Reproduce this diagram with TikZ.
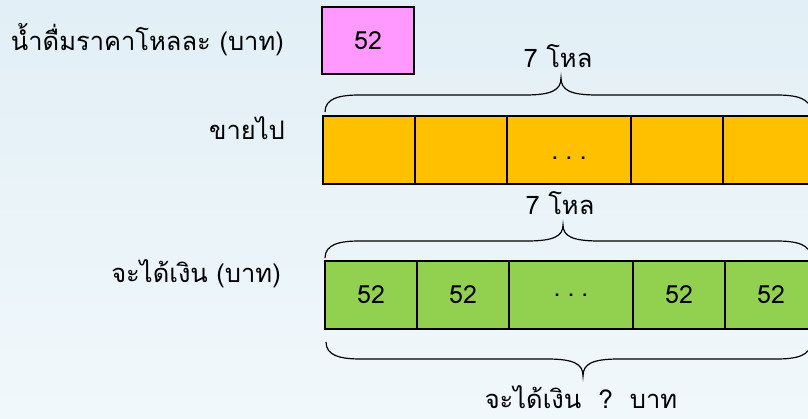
\documentclass[tikz,border=0pt]{standalone}
\usepackage{fontspec}
\newfontfamily\thaifont[Script=Thai]{Loma}
\usetikzlibrary{calc}
\definecolor{bgtop}{RGB}{226,239,246}
\definecolor{bgbot}{RGB}{241,248,251}
\definecolor{pinkc}{RGB}{255,153,255}
\definecolor{orangec}{RGB}{255,192,0}
\definecolor{greenc}{RGB}{146,208,80}
\tikzset{
  txt/.style={font=\thaifont\fontsize{25.5}{28}\selectfont, inner sep=0pt},
  cellbox/.style={draw=black, line width=1.3pt, minimum height=68pt, inner sep=0pt, font=\thaifont\fontsize{25}{28}\selectfont},
  ocell/.style={cellbox, fill=orangec},
  gcell/.style={cellbox, fill=greenc},
  bracel/.style={draw=black, line width=1.2pt},
}
\begin{document}
\begin{tikzpicture}[x=1pt,y=-1pt]
\shade[top color=bgtop, bottom color=bgbot] (0,0) rectangle (808,419);
\useasboundingbox (0,0) rectangle (808,419);

% price
\node[txt, anchor=east] (lprice) at (284,40) {น้ำดื่มราคาโหลละ (บาท)};
\node[cellbox, fill=pinkc, minimum width=92pt, minimum height=67pt] (price) at (368,40.5) {52};

% top brace
\node[txt] (t1) at (558,56) {7 โหล};
\draw[bracel] (325,112) .. controls (325,98) and (340,95) .. (360,95) -- (525,95)
  .. controls (552,95) and (561,90) .. (561,78)
  .. controls (561,90) and (570,95) .. (597,95) -- (776,95)
  .. controls (796,95) and (811,98) .. (811,112);

% sold row
\node[txt, anchor=east] (lsold) at (285,128) {ขายไป};
\node[ocell, minimum width=92pt] (o1) at (369,150) {};
\node[ocell, minimum width=92pt] (o2) at (461,150) {};
\node[ocell, minimum width=124pt] (o3) at (569,150) {};
\node[ocell, minimum width=92pt] (o4) at (677,150) {};
\node[ocell, minimum width=92pt] (o5) at (769,150) {};
\node[txt] (odots) at (569,158) {.\hspace{7pt}.\hspace{7pt}.};

% middle brace
\node[txt] (t2) at (560,203) {7 โหล};
\draw[bracel] (325,258) .. controls (325,244) and (340,241) .. (360,241) -- (527,241)
  .. controls (554,241) and (563,236) .. (563,225)
  .. controls (563,236) and (572,241) .. (599,241) -- (776,241)
  .. controls (796,241) and (811,244) .. (811,258);

% money row
\node[txt, anchor=east] (lmoney) at (281,274) {จะได้เงิน (บาท)};
\node[gcell, minimum width=92pt] (g1) at (371,295) {52};
\node[gcell, minimum width=92pt] (g2) at (463,295) {52};
\node[gcell, minimum width=124pt] (g3) at (571,295) {.\hspace{7pt}.\hspace{7pt}.};
\node[gcell, minimum width=92pt] (g4) at (679,295) {52};
\node[gcell, minimum width=92pt] (g5) at (771,295) {52};

% bottom brace
\draw[bracel] (326,342) .. controls (326,356) and (341,359) .. (361,359) -- (547,359)
  .. controls (574,359) and (583,364) .. (583,376)
  .. controls (583,364) and (592,359) .. (619,359) -- (776,359)
  .. controls (796,359) and (811,356) .. (811,342);
\node[txt] (total) at (581,397) {จะได้เงิน\ \ ?\ \ บาท};
\end{tikzpicture}
\end{document}
